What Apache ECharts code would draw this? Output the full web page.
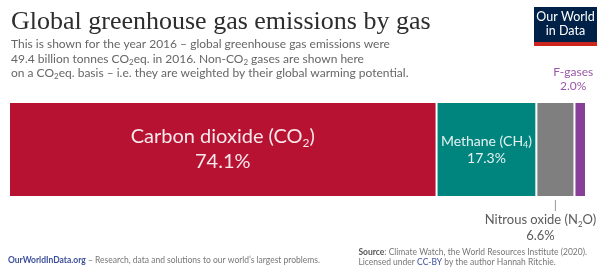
<!DOCTYPE html>
<html>
<head>
<meta charset="utf-8">
<script src="https://cdn.jsdelivr.net/npm/echarts@6/dist/echarts.min.js"></script>
<style>
  html, body { margin: 0; padding: 0; background: #fff; }
  #chart { width: 598px; height: 278px; }
</style>
</head>
<body>
<div id="chart"></div>
<script>
// data
var gases = ['Carbon dioxide', 'Methane', 'Nitrous oxide', 'F-gases'];
var formulas = [['CO', '2', ''], ['CH', '4', ''], ['N', '2', 'O'], null];
var shares = [74.1, 17.3, 6.6, 2.0];
var year = 2016;

var colors = ['#b81233', '#00847e', '#7f7f7f', '#883f98'];
var font = 'Lato, "Open Sans", sans-serif';

var chart = echarts.init(document.getElementById('chart'));

function gasText(i, cls) {
  var f = formulas[i];
  if (!f) return '{' + cls + '|' + gases[i] + '}';
  return '{' + cls + '|' + gases[i] + ' (' + f[0] + '}{' + cls + 's|' + f[1] + '}{' + cls + '|' + f[2] + ')}';
}

var labelCfg = [
  { show: true, position: 'inside', fontFamily: font,
    formatter: function (p) { return gasText(0, 'a') + '\n{a|' + p.value.toFixed(1) + '%}'; },
    rich: {
      a: { fontSize: 20, lineHeight: 25, color: '#f6e8eb', fontFamily: font },
      as: { fontSize: 12, lineHeight: 25, color: '#f6e8eb', fontFamily: font, verticalAlign: 'bottom' }
    }
  },
  { show: true, position: 'inside', fontFamily: font,
    formatter: function (p) { return gasText(1, 'b') + '\n{b|' + p.value.toFixed(1) + '%}'; },
    rich: {
      b: { fontSize: 14, lineHeight: 17, color: '#e6f2f1', fontFamily: font },
      bs: { fontSize: 9, lineHeight: 17, color: '#e6f2f1', fontFamily: font, verticalAlign: 'bottom' }
    }
  },
  { show: true, position: 'bottom', distance: 15, offset: [-15, 0], fontFamily: font,
    formatter: function (p) { return gasText(2, 'c') + '\n{c|' + p.value.toFixed(1) + '%}'; },
    rich: {
      c: { fontSize: 13, lineHeight: 16, color: '#5b5b5b', fontFamily: font },
      cs: { fontSize: 8, lineHeight: 16, color: '#5b5b5b', fontFamily: font, verticalAlign: 'bottom' }
    }
  },
  { show: true, position: 'top', distance: 9, offset: [-7, 0], fontFamily: font,
    fontSize: 12, lineHeight: 14, color: '#9a57a8',
    formatter: function (p) { return gases[3] + '\n' + p.value.toFixed(1) + '%'; }
  }
];

var series = gases.map(function (g, i) {
  return {
    name: g,
    type: 'bar',
    stack: 'total',
    barWidth: 95,
    data: [shares[i]],
    itemStyle: { color: colors[i], borderColor: '#fff', borderWidth: 1 },
    label: labelCfg[i],
    silent: true
  };
});

chart.setOption({
  animation: false,
  title: {
    text: 'Global greenhouse gas emissions by gas',
    left: 6, top: 4,
    textStyle: { fontFamily: '"Liberation Serif", serif', fontWeight: 'normal', fontSize: 26, color: '#2d2d2d' },
    subtext: 'This is shown for the year ' + year + ' – global greenhouse gas emissions were\n' +
      '49.4 billion tonnes CO{s|2}eq. in ' + year + '. Non-CO{s|2} gases are shown here\n' +
      'on a CO{s|2}eq. basis – i.e. they are weighted by their global warming potential.',
    itemGap: 2,
    subtextStyle: {
      fontFamily: font, fontSize: 12, lineHeight: 14.5, color: '#666',
      rich: { s: { fontSize: 8, lineHeight: 14.5, fontFamily: font, color: '#666', verticalAlign: 'bottom' } }
    }
  },
  grid: { left: 9, right: 12, top: 102, bottom: 81 },
  xAxis: { type: 'value', min: 0, max: 100, show: false },
  yAxis: { type: 'category', data: ['Emissions ' + year], show: false },
  series: series,
  graphic: [
    { id: 'logo', type: 'group', left: 534, top: 7, children: [
      { type: 'rect', shape: { x: 0, y: 0, width: 63, height: 39 }, style: { fill: '#002147' } },
      { type: 'rect', shape: { x: 0, y: 35, width: 63, height: 4 }, style: { fill: '#ce261e' } },
      { type: 'text', x: 31.5, y: 17, style: { text: 'Our World\nin Data', fill: '#fff', fontFamily: font, fontSize: 12.5, lineHeight: 13.5, align: 'center', verticalAlign: 'middle' } }
    ] },
    { id: 'footLeft', type: 'text', left: 8, top: 256, style: {
      text: '{l|OurWorldInData.org}{g| – Research, data and solutions to our world’s largest problems.}',
      rich: {
        l: { fontFamily: font, fontSize: 8.5, fontWeight: 'bold', fill: '#3d4f9a' },
        g: { fontFamily: font, fontSize: 8.5, fill: '#777' }
      }
    } },
    { id: 'footRight', type: 'text', right: 11, top: 247, style: {
      text: '{b|Source}{g|: Climate Watch, the World Resources Institute (2020).}\n{g|Licensed under }{l|CC-BY}{g| by the author Hannah Ritchie.}',
      align: 'right', lineHeight: 10,
      rich: {
        b: { fontFamily: font, fontSize: 8.5, fontWeight: 'bold', fill: '#555', lineHeight: 10 },
        g: { fontFamily: font, fontSize: 8.5, fill: '#777', lineHeight: 10 },
        l: { fontFamily: font, fontSize: 8.5, fill: '#3d4f9a', lineHeight: 10 }
      }
    } }
  ]
});

// small tick from the nitrous oxide segment down to its label
var mid = shares[0] + shares[1] + shares[2] / 2;
var pt = chart.convertToPixel({ gridIndex: 0 }, [mid, 0]);
var barBottom = pt[1] + 95 / 2;
chart.setOption({
  graphic: [
    { id: 'n2oTick', type: 'line', shape: { x1: pt[0], y1: barBottom + 3, x2: pt[0], y2: barBottom + 14 }, style: { stroke: '#999', lineWidth: 1 } }
  ]
});
</script>
</body>
</html>
